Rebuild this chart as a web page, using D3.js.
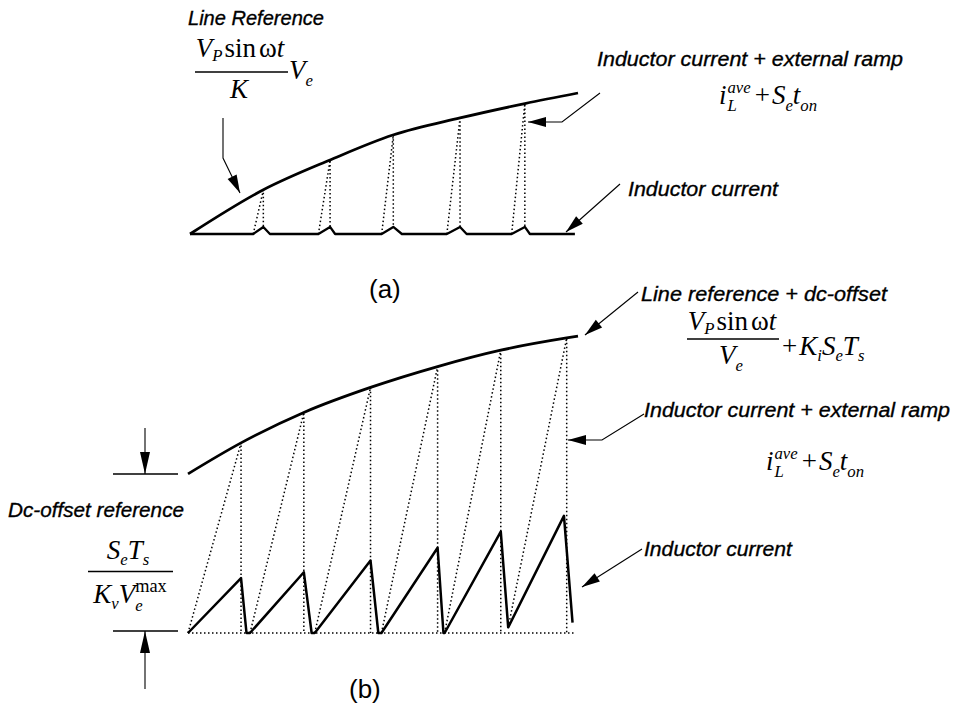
<!DOCTYPE html>
<html><head><meta charset="utf-8">
<script src="https://cdn.jsdelivr.net/npm/d3@7"></script>
<style>body{margin:0;background:#fff}</style>
</head><body>
<svg id="c" width="954" height="709" xmlns="http://www.w3.org/2000/svg"></svg>
<script>
// ---------- Panel (a): time in % of window, amplitude in % ----------
const aCurveT = [0, 18.8, 36.1, 52.3, 69.6, 86.3, 100];
const aCurveV = [0, 31.2, 52.5, 70.2, 82.3, 92.5, 100];
const aBumpStart = [16.3, 33.1, 49.4, 66.2, 82.9];
const aBumpPeak  = [18.9, 36.1, 52.4, 69.6, 86.3];
const aBumpEnd   = [20.6, 37.4, 54.6, 71.3, 87.6];
const aBumpV     = [5, 5, 5, 5, 5];
const aTopV      = [31.2, 52.5, 70.2, 82.3, 92.5];
const aBaseEnd   = 99.2;

// ---------- Panel (b) ----------
const bCurveT = [0, 13.6, 29.7, 46.8, 64.0, 80.2, 97.1, 100];
const bCurveV = [53.4, 63.8, 74.0, 82.4, 89.4, 94.9, 99.0, 99.6];
const bPeakT  = [13.6, 29.7, 46.8, 64.0, 80.2, 96.4];
const bPeakV  = [18.4, 20.4, 24.3, 28.6, 34.0, 39.3];
const bValleyT    = [15.0, 31.7, 48.8, 65.5, 82.1];
const bValleyEndT = [15.9, 32.5, 49.6, 65.8, 82.1];
const bValleyV    = [0, 0, 0, 0, 1.9];
const bTopT = [13.6, 29.7, 46.8, 64.0, 80.2, 97.1];
const bTopV = [63.8, 74.0, 82.4, 89.4, 94.9, 99.0];
const bEndT = 98.6, bEndV = 3.5;
const bBaseEnd = 98.9;

const svg = d3.select('#c');
const g = svg.append('g');
const SANS = '"Liberation Sans", Arial, Helvetica, sans-serif';
const SERIF = '"Liberation Serif", "Times New Roman", serif';
const M = 27;

const xa = d3.scaleLinear().domain([0,100]).range([190,578]);
const ya = d3.scaleLinear().domain([0,100]).range([234,93]);
const xb = d3.scaleLinear().domain([0,100]).range([188,578]);
const yb = d3.scaleLinear().domain([0,100]).range([633,335]);

const solid = (sel,w)=>sel.attr('fill','none').attr('stroke','#000').attr('stroke-width',w).attr('stroke-linejoin','round');
const dotted = sel=>sel.attr('fill','none').attr('stroke','#000').attr('stroke-width',1.5).attr('stroke-dasharray','1.5,2.5');

// ---- panel a marks
const lineA = d3.line().x(d=>xa(d[0])).y(d=>ya(d[1])).curve(d3.curveMonotoneX);
g.append('path').attr('d', lineA(aCurveT.map((t,i)=>[t,aCurveV[i]]))).call(solid,2.8);
const aIL = [[0,0]];
aBumpStart.forEach((s,i)=>{ aIL.push([s,0],[aBumpPeak[i],aBumpV[i]],[aBumpEnd[i],0]); });
aIL.push([aBaseEnd,0]);
g.append('path').attr('d', d3.line().x(d=>xa(d[0])).y(d=>ya(d[1]))(aIL)).call(solid,2.3);
aBumpStart.forEach((s,i)=>{
  g.append('path').attr('d', d3.line()([[xa(s),ya(0)],[xa(aBumpPeak[i]),ya(aTopV[i])],[xa(aBumpPeak[i]),ya(aBumpV[i])]])).call(dotted);
});

// ---- panel b marks
const lineB = d3.line().x(d=>xb(d[0])).y(d=>yb(d[1])).curve(d3.curveMonotoneX);
g.append('path').attr('d', lineB(bCurveT.map((t,i)=>[t,bCurveV[i]]))).call(solid,2.8);
g.append('path').attr('d', d3.line()([[xb(0),yb(0)],[xb(bBaseEnd),yb(0)]])).call(dotted);
const riseT = [0].concat(bValleyEndT), riseV = [0].concat(bValleyV);
bTopT.forEach((t,i)=>{
  g.append('path').attr('d', d3.line()([[xb(riseT[i]),yb(riseV[i])],[xb(t),yb(bTopV[i])],[xb(t),yb(0)]])).call(dotted);
});
const bIL = [[0,0]];
bPeakT.forEach((t,i)=>{
  bIL.push([t,bPeakV[i]]);
  if (i < bValleyT.length) { bIL.push([bValleyT[i],bValleyV[i]]); if (bValleyEndT[i]!==bValleyT[i]) bIL.push([bValleyEndT[i],bValleyV[i]]); }
});
bIL.push([bEndT,bEndV]);
g.append('path').attr('d', d3.line().x(d=>xb(d[0])).y(d=>yb(d[1]))(bIL)).call(solid,2.5);

// ---- arrows
function arrow(pts, len=18, half=5){
  g.append('path').attr('d', d3.line()(pts)).attr('fill','none').attr('stroke','#000').attr('stroke-width',1.1);
  const [x1,y1]=pts[pts.length-2], [x2,y2]=pts[pts.length-1];
  const a=Math.atan2(y2-y1,x2-x1);
  const bx=x2-len*Math.cos(a), by=y2-len*Math.sin(a);
  const px=-Math.sin(a)*half, py=Math.cos(a)*half;
  g.append('path').attr('d',`M${x2},${y2}L${bx+px},${by+py}L${bx-px},${by-py}Z`).attr('fill','#000');
}
arrow([[223,118],[223,158],[240,193]]);
arrow([[600,93],[562,122],[528,122]]);
arrow([[620,184],[566,232]]);
arrow([[638,292],[585,335]]);
arrow([[644,414],[602,440],[568,440]]);
arrow([[642,549],[582,587]]);
// dc-offset dimension marks
g.append('line').attr('x1',113).attr('x2',178).attr('y1',474).attr('y2',474).attr('stroke','#000').attr('stroke-width',1.3);
g.append('line').attr('x1',113).attr('x2',178).attr('y1',631).attr('y2',631).attr('stroke','#000').attr('stroke-width',1.3);
arrow([[145,428],[145,474]], 22, 5);
arrow([[145,689],[145,631]], 22, 5);

// ---- labels
function label(x,y,t,w){
  const el=g.append('text').attr('x',x).attr('y',y).attr('font-family',SANS).attr('font-size',21)
    .attr('font-style','italic').attr('stroke','#000').attr('stroke-width',0.35).text(t);
  if (w) el.attr('textLength',w).attr('lengthAdjust','spacingAndGlyphs');
}
label(188,25,'Line Reference',136);
label(597,66,'Inductor current + external ramp',306);
label(628,196,'Inductor current',150);
label(641,301,'Line reference + dc-offset',246);
label(644,417,'Inductor current + external ramp',306);
label(644,556,'Inductor current',148);
label(8,517,'Dc-offset reference',176);
g.append('text').attr('x',369).attr('y',298).attr('font-family',SANS).attr('font-size',26).text('(a)');
g.append('text').attr('x',349).attr('y',698).attr('font-family',SANS).attr('font-size',26).text('(b)');

// ---- math
function piece(p, x, y, o){
  const el = p.append('text').attr('x',x).attr('y',y+(o.dy||0)).attr('font-family',SERIF)
    .attr('font-size',(o.sc||1)*M).attr('font-style',o.it===false?'normal':'italic').text(o.t);
  return el.node().getComputedTextLength();
}
function formula(x, y, items, anchor){
  const p = g.append('g');
  let cx = 0;
  for (const it of items){
    if (it.stack){
      const w1=piece(p,cx,0,it.stack[0]), w2=piece(p,cx,0,it.stack[1]);
      cx += Math.max(w1,w2)+(it.gap||0);
    } else cx += piece(p,cx,0,it)+(it.gap||0);
  }
  const ox = anchor==='middle' ? x-cx/2 : x;
  p.attr('transform',`translate(${ox},${y})`);
  return cx;
}
function bar(x1,x2,y){ g.append('line').attr('x1',x1).attr('x2',x2).attr('y1',y).attr('y2',y).attr('stroke','#000').attr('stroke-width',1.3); }
const sub = (t,dy=6)=>({t,sc:0.62,dy});
const VPsin = [{t:'V'},{t:'P',sc:0.62,dy:4,gap:2},{t:'sin',it:false,gap:3},{t:'ω',it:false},{t:'t'}];
const iLave = [{t:'i',gap:1},{stack:[sub('L',7),{t:'ave',sc:0.62,dy:-11}],gap:4},{t:'+',it:false,gap:2},{t:'S'},sub('e',7),{t:'t'},sub('on',7)];

// (a) line reference
formula(240,57,VPsin,'middle'); bar(195,288,72); formula(239,98,[{t:'K'}],'middle');
formula(289,79,[{t:'V'},sub('e',7)]);
// (a) ramp
formula(768,104,iLave,'middle');
// (b) line reference + offset
formula(732,330,VPsin,'middle'); bar(687,779,339); formula(731,364,[{t:'V'},sub('e',7)],'middle');
formula(782,355,[{t:'+',it:false,gap:2},{t:'K'},sub('i',6),{t:'S'},sub('e',6),{t:'T'},sub('s',6)]);
// (b) ramp
formula(815,470,iLave,'middle');
// dc offset
formula(128,559,[{t:'S'},sub('e',6),{t:'T'},sub('s',6)],'middle'); bar(88,173,571.5);
formula(130,603,[{t:'K'},sub('v',6),{t:'V'},{stack:[sub('e',8),{t:'max',it:false,sc:0.68,dy:-11}]}],'middle');
</script>
</body></html>
